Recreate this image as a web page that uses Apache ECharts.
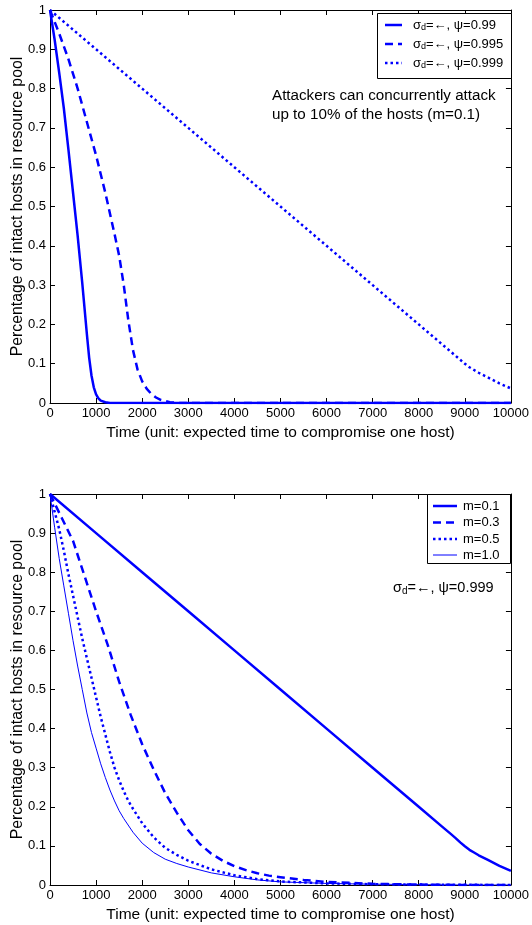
<!DOCTYPE html>
<html><head><meta charset="utf-8">
<script src="https://cdn.jsdelivr.net/npm/echarts@6/dist/echarts.min.js"></script>
<style>html,body{margin:0;padding:0;background:#fff}#c{width:532px;height:925px}</style>
</head><body><div id="c"></div><script>
// ---------- data ----------
const xTickValues = [0,1000,2000,3000,4000,5000,6000,7000,8000,9000,10000];
const yTickValues = [0,0.1,0.2,0.3,0.4,0.5,0.6,0.7,0.8,0.9,1];

// top panel: m = 0.1, sigma_d = inf
const topNames = ['ψ=0.99','ψ=0.995','ψ=0.999'];
const psi099X = [0,100,200,300,400,500,600,700,800,850,900,950,1000,1050,1100,1200,1300,10000];
const psi099Y = [1,0.925,0.84,0.75,0.645,0.535,0.425,0.305,0.175,0.115,0.07,0.04,0.022,0.012,0.006,0.002,0,0];
const psi0995X = [0,200,400,600,800,1000,1200,1400,1500,1600,1700,1800,1900,2000,2100,2200,2300,2400,2600,2800,10000];
const psi0995Y = [1,0.94,0.875,0.8,0.715,0.63,0.535,0.43,0.375,0.3,0.21,0.135,0.085,0.055,0.036,0.023,0.014,0.008,0.002,0,0];
const psi0999X = [0,1000,2000,3000,4000,5000,6000,7000,8000,8500,8800,8900,9000,9100,9200,9300,9500,9750,10000];
const psi0999Y = [1,0.9,0.8,0.7,0.6,0.5,0.4,0.3,0.2,0.15,0.12,0.11,0.1,0.091,0.084,0.077,0.065,0.05,0.037];

// bottom panel: psi = 0.999, sigma_d = inf
const botNames = ['m=0.1','m=0.3','m=0.5','m=1.0'];
const m01X = [0,1000,2000,3000,4000,5000,6000,7000,8000,8500,8700,8800,8900,9000,9100,9200,9300,9500,9750,10000];
const m01Y = [1,0.9,0.8,0.7,0.6,0.5,0.4,0.3,0.2,0.15,0.13,0.12,0.109,0.099,0.09,0.083,0.076,0.064,0.049,0.036];
const m03X = [0,250,500,750,1000,1250,1500,1750,2000,2250,2500,2750,3000,3250,3500,3750,4000,4250,4500,4750,5000,5500,6000,7000,8000,9000,10000];
const m03Y = [1,0.94,0.88,0.79,0.70,0.615,0.52,0.435,0.36,0.295,0.235,0.185,0.14,0.105,0.08,0.062,0.048,0.038,0.03,0.024,0.02,0.013,0.008,0.003,0.001,0,0];
const m05X = [0,100,200,300,400,500,600,700,800,900,1000,1100,1200,1300,1400,1500,1600,1700,1800,2000,2250,2500,2750,3000,3500,4000,4500,5000,6000,7000,8000,10000];
const m05Y = [1,0.955,0.91,0.855,0.795,0.74,0.685,0.63,0.58,0.53,0.48,0.43,0.385,0.34,0.3,0.268,0.24,0.215,0.195,0.158,0.122,0.095,0.077,0.062,0.04,0.025,0.015,0.009,0.004,0.002,0.001,0];
const m10X = [0,100,200,300,400,500,600,700,800,900,1000,1100,1200,1300,1400,1500,1600,1800,2000,2250,2500,2750,3000,3500,4000,4500,5000,6000,7000,8000,9000,10000];
const m10Y = [1,0.915,0.835,0.765,0.695,0.625,0.56,0.5,0.44,0.39,0.35,0.31,0.275,0.243,0.215,0.19,0.17,0.135,0.107,0.083,0.066,0.055,0.046,0.031,0.021,0.013,0.008,0.004,0.002,0.001,0,0];

const xTitle = 'Time (unit: expected time to compromise one host)';
const yTitle = 'Percentage of intact hosts in resource pool';
const noteTop = 'Attackers can concurrently attack\nup to 10% of the hosts (m=0.1)';
const noteBotPsi = 'ψ=0.999';

// ---------- chart ----------
const FONT = '"Liberation Sans", Arial, Helvetica, sans-serif';
const BLUE = '#0000ff';
const pairs = (xs, ys) => xs.map((x, i) => [x, ys[i]]);

const grids = [
  {left: 50, top: 10, width: 463, height: 393},
  {left: 50, top: 494, width: 463, height: 391}
];

function xAx(g, top) {
  return {
    gridIndex: g, type: 'value', min: 0, max: 10000, interval: 1000,
    position: top ? 'top' : 'bottom',
    axisLine: {show: true, onZero: false, lineStyle: {color: '#000', width: 1}},
    axisTick: {show: true, inside: true, length: 5, lineStyle: {color: '#000'}},
    axisLabel: {show: !top, color: '#000', fontSize: 13, fontFamily: FONT, margin: 4,
      formatter: v => String(Math.round(v))},
    splitLine: {show: false},
    name: top ? '' : xTitle, nameLocation: 'middle', nameGap: 22, nameMoveOverlap: false,
    nameTextStyle: {color: '#000', fontSize: 15.5, fontFamily: FONT}
  };
}
function yAx(g, right) {
  return {
    gridIndex: g, type: 'value', min: 0, max: 1, interval: 0.1,
    position: right ? 'right' : 'left',
    axisLine: {show: true, onZero: false, lineStyle: {color: '#000', width: 1}},
    axisTick: {show: true, inside: true, length: 5, lineStyle: {color: '#000'}},
    axisLabel: {show: !right, color: '#000', fontSize: 13, fontFamily: FONT, margin: 4,
      formatter: v => (Math.abs(v) < 1e-9 ? '0' : (Math.abs(v - 1) < 1e-9 ? '1' : v.toFixed(1)))},
    splitLine: {show: false},
    name: right ? '' : yTitle, nameLocation: 'middle', nameGap: 24, nameRotate: 90, nameMoveOverlap: false,
    nameTextStyle: {color: '#000', fontSize: 15.8, fontFamily: FONT}
  };
}

function ser(name, xs, ys, g, type, width) {
  return {
    name, type: 'line', xAxisIndex: g * 2, yAxisIndex: g * 2,
    data: pairs(xs, ys), symbol: 'none', smooth: false,
    lineStyle: {color: BLUE, width, type, cap: 'butt', join: 'round'},
    itemStyle: {color: BLUE}, clip: true, animation: false
  };
}

const DASH = [8, 5], DOT = [2.5, 3];

// legend boxes drawn as graphic elements (line samples + labels)
function legendGraphic(box, names, styles, rowYs, lx1, lx2, tx, fmt) {
  const els = [{type: 'rect', shape: {x: box[0], y: box[1], width: box[2], height: box[3]},
    style: {fill: '#fff', stroke: '#000', lineWidth: 1}, z: 100}];
  names.forEach((n, i) => {
    els.push({type: 'line', shape: {x1: lx1, y1: rowYs[i], x2: lx2, y2: rowYs[i]},
      style: {stroke: BLUE, lineWidth: styles[i].w, lineDash: styles[i].d}, z: 101});
    els.push({type: 'text', x: tx, y: rowYs[i], style: Object.assign({verticalAlign: 'middle', fill: '#000', fontFamily: FONT, fontSize: 13}, fmt(n)), z: 101});
  });
  return els;
}
const subRich = {
  s: {fontSize: 13, fontFamily: FONT, color: '#000'},
  sub: {fontSize: 9, fontFamily: FONT, color: '#000', padding: [6, 0, 0, 0]}
};

const option = {
  animation: false,
  backgroundColor: '#fff',
  grid: grids,
  xAxis: [xAx(0, false), xAx(0, true), xAx(1, false), xAx(1, true)],
  yAxis: [yAx(0, false), yAx(0, true), yAx(1, false), yAx(1, true)],
  graphic: [].concat(
    legendGraphic([377.5, 13.5, 134, 65], topNames,
      [{w: 2.5, d: null}, {w: 2.5, d: DASH}, {w: 2.5, d: DOT}],
      [25, 44, 63], 385, 402, 413,
      n => ({text: '{s|σ}{sub|d}{s|=←, ' + n + '}', rich: subRich})),
    legendGraphic([427.5, 494.5, 83, 69], botNames,
      [{w: 2.5, d: null}, {w: 2.5, d: DASH}, {w: 2.5, d: DOT}, {w: 1, d: null}],
      [506, 522.5, 539, 555], 433, 457, 463,
      n => ({text: n})),
    [
      {type: 'text', left: 272, top: 86, style: {text: noteTop, fontSize: 15.2, fontFamily: FONT, fill: '#000', lineHeight: 19}},
      {type: 'text', left: 393, top: 580, style: {
        text: '{s|σ}{sub|d}{s|=←, ' + noteBotPsi + '}',
        rich: {s: {fontSize: 14.5, fontFamily: FONT, color: '#000'}, sub: {fontSize: 10, fontFamily: FONT, color: '#000', padding: [7, 0, 0, 0]}}
      }}
    ]
  ),
  series: [
    ser(topNames[0], psi099X, psi099Y, 0, 'solid', 2.5),
    ser(topNames[1], psi0995X, psi0995Y, 0, DASH, 2.5),
    ser(topNames[2], psi0999X, psi0999Y, 0, DOT, 2.5),
    ser(botNames[0], m01X, m01Y, 1, 'solid', 2.5),
    ser(botNames[1], m03X, m03Y, 1, DASH, 2.5),
    ser(botNames[2], m05X, m05Y, 1, DOT, 2.5),
    ser(botNames[3], m10X, m10Y, 1, 'solid', 1)
  ]
};

const chart = echarts.init(document.getElementById('c'), null, {renderer: 'canvas'});
chart.setOption(option);
</script></body></html>
